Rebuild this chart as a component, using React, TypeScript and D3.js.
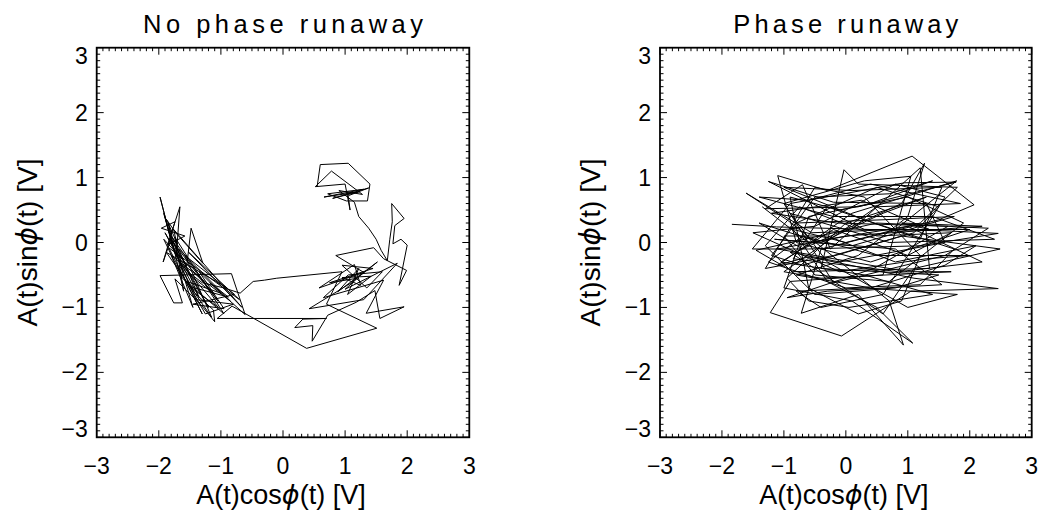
import React from 'react';
import * as d3 from 'd3';

// phase-space trajectories, [A cos(phi), A sin(phi)] in volts
const noRunawayPath: [number, number][] = [
  [0.55, 0.86], [0.60, 1.20], [1.05, 1.22], [1.40, 0.90], [1.36, 0.64], [1.02, 0.64], [0.72, 0.75], [1.30, 0.82],
  [0.66, 0.70], [1.22, 0.78], [0.80, 0.68], [1.38, 0.84], [1.05, 0.72], [1.08, 0.50], [1.00, 0.90], [0.52, 0.86],
  [0.78, 1.10], [1.28, 0.74], [0.90, 0.80], [1.15, 0.62],
  [1.22, 0.40], [1.38, 0.22], [1.50, 0.05], [1.58, -0.12], [1.68, -0.28],
  [1.72, 0.05], [1.76, 0.32], [1.75, 0.60], [1.95, 0.37], [1.80, 0.26], [1.77, -0.02], [1.90, 0.05], [2.00, -0.04],
  [1.87, -0.66], [1.99, -0.43], [1.62, -0.25], [1.46, -0.08],
  [0.85, -0.20], [1.30, -0.46], [0.58, -0.70], [1.15, -0.34], [1.25, -0.66], [0.95, -0.54], [1.42, -0.52], [1.04, -0.80],
  [1.22, -0.40], [0.88, -0.76], [1.52, -0.30], [1.10, -0.62], [0.42, -1.02], [1.30, -0.88], [1.84, -0.32], [1.00, -0.72],
  [1.20, -0.55], [0.75, -0.62], [1.45, -0.40], [0.95, -0.35], [1.35, -0.70], [1.60, -0.45], [1.05, -0.50], [0.65, -0.85],
  [1.62, -0.58], [1.34, -1.09], [1.95, -0.99], [1.56, -1.17], [1.48, -0.74], [1.18, -0.92], [0.72, -1.12], [0.47, -1.52],
  [0.48, -1.28], [0.19, -1.31], [0.32, -1.18], [0.70, -1.17],
  [-1.06, -1.17], [-0.82, -0.98], [0.38, -1.63], [1.51, -1.32], [0.70, -0.95], [0.95, -0.45],
  [-0.10, -0.55], [-0.30, -0.58], [-0.48, -0.60], [-0.69, -0.78], [-0.95, -0.70],
  [-1.30, -0.62], [-1.60, -0.40], [-1.75, -0.15], [-1.98, 0.70], [-1.78, -0.05], [-1.92, 0.45], [-1.72, -0.22], [-1.66, 0.55],
  [-1.86, -0.04], [-1.58, 0.10], [-1.96, 0.22], [-1.74, 0.32], [-1.93, -0.30], [-1.80, 0.06], [-1.55, -0.36], [-1.48, 0.22],
  [-1.29, -0.32], [-1.72, 0.14], [-1.88, 0.36], [-1.70, -0.02], [-1.82, 0.12],
  [-1.05, -0.90], [-1.78, 0.02], [-1.20, -1.00], [-1.90, 0.15], [-1.35, -0.85], [-1.68, -0.10], [-0.85, -0.90], [-1.80, -0.20],
  [-1.45, -1.00], [-1.85, 0.30], [-1.60, -0.75], [-1.74, 0.08], [-0.95, -1.10], [-1.62, -0.55], [-1.92, 0.05], [-1.10, -0.80],
  [-1.70, -0.35], [-1.30, -1.10], [-1.84, -0.08], [-0.70, -0.88], [-1.52, -0.15], [-0.66, -1.00], [-1.76, 0.20],
  [-1.62, -0.42], [-1.42, -0.78], [-1.12, -1.04], [-1.10, -1.22], [-1.32, -0.96], [-1.74, -0.56], [-1.62, -0.93], [-1.76, -0.93],
  [-1.98, -0.51], [-0.83, -0.48], [-0.61, -1.11], [-1.18, -0.62], [-0.88, -0.84], [-1.50, -0.68], [-1.04, -1.00], [-1.68, -0.28],
  [-1.40, -0.88], [-0.80, -0.95], [-1.25, -1.10], [-1.55, -0.60], [-1.00, -0.78], [-1.35, -0.45], [-0.95, -1.02], [-1.45, -0.95],
  [-0.78, -0.80], [-1.58, -0.20], [-1.15, -1.15], [-1.88, -0.15], [-0.90, -0.70],
];

const runawayPath: [number, number][] = [
  [-1.84, 0.28], [-1.12, 0.24], [0.40, 0.20], [1.60, 0.18], [2.46, 0.14], [1.20, -0.05], [-0.60, -0.10], [-1.51, -0.10],
  [-0.90, 0.60], [0.95, 0.92], [1.78, 0.93], [0.20, 0.55], [-1.30, 0.52], [-0.70, 0.89], [-0.25, -0.10], [1.20, 1.15],
  [1.35, -0.40], [-0.85, -0.45], [-1.45, -0.12], [0.50, 0.30], [2.30, 0.22], [1.60, -0.20], [-0.20, -0.62], [-1.00, 0.60],
  [0.30, 0.95], [1.05, 1.02], [0.60, -0.50], [-0.90, -0.60], [-1.22, -1.08], [-0.07, -1.44], [1.05, -0.75], [2.46, -0.71],
  [1.10, -0.55], [-0.60, -0.22], [-1.10, -0.35], [0.10, 0.45], [1.79, 0.95], [0.80, 0.20], [-0.55, 0.15], [-1.61, 0.76],
  [-0.95, 0.35], [0.70, -0.90], [0.93, -1.58], [0.20, -0.80], [-0.72, -1.09], [-0.40, -0.10], [1.50, 0.35], [2.07, 0.58],
  [1.07, 1.33], [-0.30, 0.80], [-1.10, 1.03], [-0.80, 0.00], [0.40, -0.30], [2.00, 0.20], [0.30, 0.20], [-1.25, 0.94],
  [-0.20, 0.62], [1.30, 0.60], [1.60, 0.00], [-0.10, -0.30], [-0.90, -0.15], [0.60, -1.10], [1.10, -0.40], [2.49, -0.10],
  [0.90, 0.10], [-0.70, -0.35], [-1.20, -0.20], [-0.50, 0.70], [0.70, 0.75], [1.40, 0.95], [0.40, 0.60], [-0.60, 0.40],
  [-1.00, -0.70], [0.10, -0.90], [1.08, -1.55], [0.50, -1.00], [-0.30, -0.60], [-0.85, 0.20], [0.00, 0.00], [1.20, 0.30],
  [1.80, 0.85], [0.20, 0.90], [-0.03, 1.12], [-0.40, -0.40], [1.50, -0.50], [0.80, -0.70], [-0.50, -0.80], [-1.30, -0.05],
  [-0.75, 0.55], [0.50, 0.10], [1.70, 0.15], [1.00, -0.20], [-0.20, 0.20], [-1.05, -0.30], [0.30, -0.50], [1.40, -0.80],
  [0.05, -1.00], [-0.60, -0.90], [-0.95, -0.55], [0.00, 0.30], [1.30, 0.70], [0.60, 0.45], [-0.40, 0.00], [-1.40, 0.30],
  [-0.70, -0.10], [0.90, 0.60], [1.27, 1.22], [1.00, 0.40], [0.20, -0.20], [-0.80, -0.50], [0.40, -0.70], [1.60, -0.35],
  [2.10, -0.05], [0.80, -0.30], [-0.30, 0.10], [-1.00, 0.10], [-0.50, -0.50], [0.70, -0.60], [1.90, 0.30], [1.00, 0.70],
  [-0.10, 0.50], [-0.90, 0.70], [-0.60, -0.70], [0.20, -1.10], [0.90, -0.90], [1.20, -0.20], [0.30, 0.70], [-0.50, 0.85],
  [-1.30, -0.40], [-0.20, -0.20], [1.10, 0.15], [1.50, 0.55], [0.50, 0.85], [-0.80, 0.30], [0.60, 0.35], [1.75, 0.40],
  [0.10, -0.05], [-1.15, 0.05], [0.80, -0.10], [1.55, -0.65], [-0.30, -0.75], [-0.95, -0.85], [0.45, -0.40], [1.65, 0.25],
  [-0.15, 0.30], [-1.20, 0.45], [0.25, 0.65], [1.35, 0.20],
  [0.90, 0.30], [2.20, 0.25], [0.00, 0.10], [-1.10, -0.10], [1.00, -0.45], [1.70, -0.45], [-0.40, -0.55], [-1.00, -0.45],
  [0.50, 0.55], [1.85, 0.60], [0.40, 0.90], [-0.60, 0.65], [-1.40, 0.70], [-0.20, 0.40], [1.40, 0.40], [2.40, 0.05],
  [0.70, 0.00], [-0.90, 0.45], [-0.30, -0.30], [1.00, -1.00], [1.80, -0.80], [0.30, -0.70], [-0.80, -0.75], [-0.40, -1.00],
  [0.60, -0.80], [1.60, 0.70], [0.80, 0.90], [-0.50, 0.25], [-1.50, 0.15], [-0.10, -0.45], [1.30, -0.25], [2.00, -0.20],
  [0.50, -0.20], [-0.70, 0.10], [-1.25, -0.30], [0.00, -0.70], [1.20, -0.65], [1.75, -0.10], [0.30, 0.35], [-1.00, 0.85],
  [0.10, 0.80], [1.55, 0.85], [1.20, 0.05], [-0.30, 0.55], [-0.85, -0.25], [0.85, -0.45], [2.20, -0.30], [1.00, 0.25],
  [-0.60, 0.00], [-1.35, 0.55],
];

const majorTicks = [-3, -2, -1, 0, 1, 2, 3];
const tickLabels = ['\u22123', '\u22122', '\u22121', '0', '1', '2', '3'];
const minorTicks = d3.range(-30, 31).map(i => i / 10);

const titles = ['No phase runaway', 'Phase runaway'];

const FONT = 'Liberation Sans, Arial, sans-serif';
const top = 47.7;
const bottom = 437.3;

const AxisTitle = ({ fn }: { fn: string }) => (
  <>
    A(t){fn}<tspan fontFamily="DejaVu Sans" fontStyle="italic" fontWeight={300}>ϕ</tspan>(t) [V]
  </>
);

const Panel = ({ left, right, title, titleLen, path }: {
  left: number; right: number; title: string; titleLen: number; path: [number, number][];
}) => {
  const x = d3.scaleLinear().domain([-3, 3]).range([left, right]);
  const y = d3.scaleLinear().domain([-3, 3]).range([bottom, top]);
  const line = d3.line<[number, number]>().x(d => x(d[0])).y(d => y(d[1]));
  const cx = (left + right) / 2;
  const cy = (top + bottom) / 2;

  return (
    <g fontFamily={FONT} fill="#000">
      <text x={cx} y={33} fontSize={25.5} textAnchor="middle" textLength={titleLen} lengthAdjust="spacing">{title}</text>

      <path d={line(path) ?? ''} fill="none" stroke="#000" strokeWidth={1} strokeLinejoin="miter" />

      <g stroke="#000" strokeWidth={1}>
        {minorTicks.map(t => {
          const major = Math.abs(t - Math.round(t)) < 1e-6;
          const len = major ? 7 : 3.5;
          return (
            <g key={t}>
              <line x1={x(t)} x2={x(t)} y1={bottom} y2={bottom - len} />
              <line x1={x(t)} x2={x(t)} y1={top} y2={top + len} />
              <line x1={left} x2={left + len} y1={y(t)} y2={y(t)} />
              <line x1={right} x2={right - len} y1={y(t)} y2={y(t)} />
            </g>
          );
        })}
      </g>
      <rect x={left} y={top} width={right - left} height={bottom - top} fill="none" stroke="#000" strokeWidth={1.8} />

      {majorTicks.map((t, i) => (
        <text key={'x' + t} x={x(t)} y={474} fontSize={23} textAnchor="middle">{tickLabels[i]}</text>
      ))}
      {majorTicks.map((t, i) => {
        // IDL pulls the end labels inside the plot box
        let ty = y(t) + 8;
        if (t === 3) ty = top + 16.5;
        if (t === -3) ty = bottom - 0.5;
        return (
          <text key={'y' + t} x={left - 9} y={ty} fontSize={23} textAnchor="end">{tickLabels[i]}</text>
        );
      })}

      <text x={cx - 2} y={504} fontSize={27} textAnchor="middle"><AxisTitle fn="cos" /></text>
      <text transform={`translate(${left - 60},${cy}) rotate(-90)`} fontSize={28} textAnchor="middle"><AxisTitle fn="sin" /></text>
    </g>
  );
};

export default function App() {
  return (
    <svg width={1044} height={511} style={{ position: 'absolute', left: 0, top: 0, background: '#fff' }}>
      <rect width={1044} height={511} fill="#fff" />
      <Panel left={96.7} right={469.3} title={titles[0]} titleLen={280} path={noRunawayPath} />
      <Panel left={660} right={1031.7} title={titles[1]} titleLen={225} path={runawayPath} />
    </svg>
  );
}
